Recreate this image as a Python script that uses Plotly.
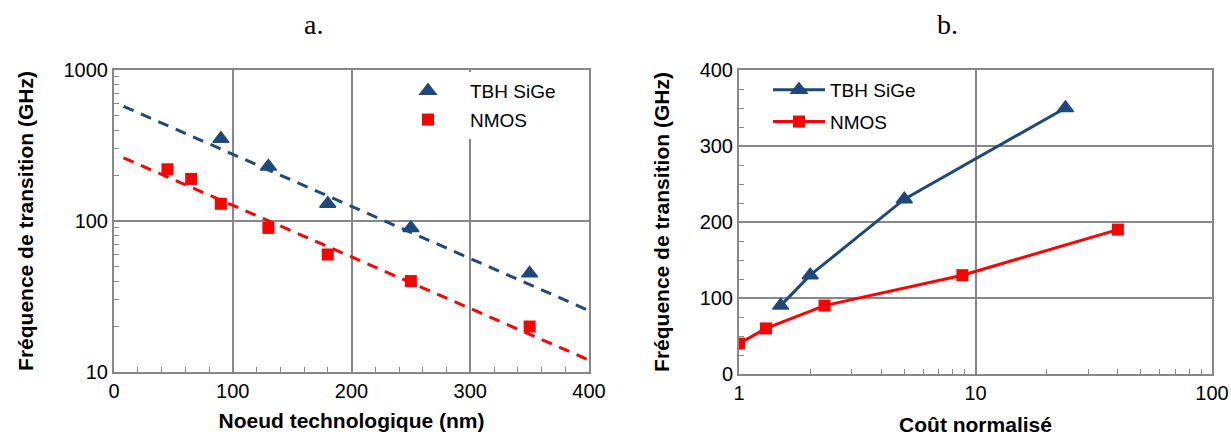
import plotly.graph_objects as go

# ---- Panel a: transition frequency vs technology node (log y) ----
node_sige = [90, 130, 180, 250, 350]
ft_sige = [350, 230, 130, 90, 45]
node_nmos = [45, 65, 90, 130, 180, 250, 350]
ft_nmos = [220, 190, 130, 90, 60, 40, 20]
# trend lines (end points)
trend_x = [8, 400]
trend_sige = [575, 25.5]
trend_nmos = [262, 12.0]

# ---- Panel b: transition frequency vs normalized cost (log x) ----
cost_sige = [1.5, 2.0, 5.0, 24]
ftb_sige = [90, 130, 230, 350]
cost_nmos = [1.0, 1.3, 2.3, 8.8, 40]
ftb_nmos = [40, 60, 90, 130, 190]

BLUE = "#1F497D"
RED = "#FF0000"
GRID = "#878787"
FONT = "Liberation Sans, Arial, sans-serif"
SERIF = "Liberation Serif, Times New Roman, serif"

fig = go.Figure()

fig.add_trace(go.Scatter(x=trend_x, y=trend_sige, mode="lines",
                         line=dict(color=BLUE, width=3, dash="11px,8px"),
                         showlegend=False, xaxis="x", yaxis="y"))
fig.add_trace(go.Scatter(x=trend_x, y=trend_nmos, mode="lines",
                         line=dict(color=RED, width=3, dash="11px,8px"),
                         showlegend=False, xaxis="x", yaxis="y"))
fig.add_trace(go.Scatter(x=node_sige, y=ft_sige, mode="markers", name="TBH SiGe",
                         marker=dict(symbol="triangle-up", size=14, color=BLUE,
                                     line=dict(color=BLUE, width=1.5)),
                         legend="legend", legendgroup="a1", xaxis="x", yaxis="y"))
fig.add_trace(go.Scatter(x=node_nmos, y=ft_nmos, mode="markers", name="NMOS",
                         marker=dict(symbol="square", size=12, color=RED),
                         legend="legend", legendgroup="a2", xaxis="x", yaxis="y"))

fig.add_trace(go.Scatter(x=cost_sige, y=ftb_sige, mode="lines+markers", name="TBH SiGe",
                         line=dict(color=BLUE, width=3),
                         marker=dict(symbol="triangle-up", size=14, color=BLUE,
                                     line=dict(color=BLUE, width=1.5)),
                         legend="legend2", legendgroup="b1", xaxis="x2", yaxis="y2"))
fig.add_trace(go.Scatter(x=cost_nmos, y=ftb_nmos, mode="lines+markers", name="NMOS",
                         line=dict(color=RED, width=3),
                         marker=dict(symbol="square", size=12, color=RED),
                         legend="legend2", legendgroup="b2", xaxis="x2", yaxis="y2"))

W, H = 1231, 441
def px(x0, x1):
    return [x0 / W, x1 / W]
def py(top, bottom):
    return [1 - bottom / H, 1 - top / H]

axis_common = dict(showline=True, linecolor=GRID, linewidth=2, mirror=True,
                   showgrid=True, gridcolor=GRID, gridwidth=2, zeroline=False,
                   automargin=False, ticks="",
                   tickfont=dict(family=FONT, size=20, color="black"),
                   title_font=dict(family=FONT, size=21, color="black"))

fig.update_layout(
    width=W, height=H,
    margin=dict(l=0, r=0, t=0, b=0, autoexpand=False),
    paper_bgcolor="white", plot_bgcolor="white",
    font=dict(family=FONT, color="black"),
    xaxis=dict(domain=px(114, 589), range=[0, 400], dtick=100, ticklabelstandoff=0,
               minor=dict(ticks="inside", dtick=20, ticklen=5, tickcolor=GRID, showgrid=False),
               title=dict(text="<b>Noeud technologique (nm)</b>", standoff=12),
               anchor="y", **axis_common),
    yaxis=dict(domain=py(70, 372), type="log", range=[1, 3], ticklabelstandoff=0,
               tickvals=[10, 100, 1000], ticktext=["10", "100", "1000"],
               minor=dict(ticks="inside", tickvals=[20, 30, 40, 50, 60, 70, 80, 90,
                                                    200, 300, 400, 500, 600, 700, 800, 900],
                          ticklen=5, tickcolor=GRID, showgrid=False),
               title=dict(text="<b>Fréquence de transition (GHz)</b>", standoff=24),
               anchor="x", **axis_common),
    xaxis2=dict(domain=px(739, 1212), type="log", range=[0, 2], ticklabelstandoff=0,
                tickvals=[1, 10, 100], ticktext=["1", "10", "100"],
                minor=dict(ticks="inside", tickvals=[2, 3, 4, 5, 6, 7, 8, 9,
                                                     20, 30, 40, 50, 60, 70, 80, 90],
                           ticklen=5, tickcolor=GRID, showgrid=False),
                title=dict(text="<b>Coût normalisé</b>", standoff=14),
                anchor="y2", **axis_common),
    yaxis2=dict(domain=py(70, 374), range=[0, 400], dtick=100, ticklabelstandoff=0,
                minor=dict(ticks="inside", dtick=25, ticklen=5, tickcolor=GRID, showgrid=False),
                title=dict(text="<b>Fréquence de transition (GHz)</b>", standoff=24),
                anchor="x2", **axis_common),
    legend=dict(x=386 / W, y=1 - 72 / H, xanchor="left", yanchor="top",
                bgcolor="white", borderwidth=0, itemwidth=74, tracegroupgap=1,
                font=dict(family=FONT, size=19, color="black")),
    legend2=dict(x=768 / W, y=1 - 71 / H, xanchor="left", yanchor="top",
                 bgcolor="rgba(0,0,0,0)", borderwidth=0, itemwidth=52, tracegroupgap=4,
                 font=dict(family=FONT, size=19, color="black")),
    annotations=[
        dict(text="a.", x=313 / W, y=1 - 25 / H, xref="paper", yref="paper",
             xanchor="center", yanchor="middle", showarrow=False,
             font=dict(family=SERIF, size=28, color="black")),
        dict(text="b.", x=947 / W, y=1 - 25 / H, xref="paper", yref="paper",
             xanchor="center", yanchor="middle", showarrow=False,
             font=dict(family=SERIF, size=28, color="black")),
    ],
)

fig.write_html("out.html", config={"displayModeBar": False},
               post_script="document.documentElement.style.margin='0';"
                           "document.body.style.margin='0';"
                           "document.body.style.padding='0';")
